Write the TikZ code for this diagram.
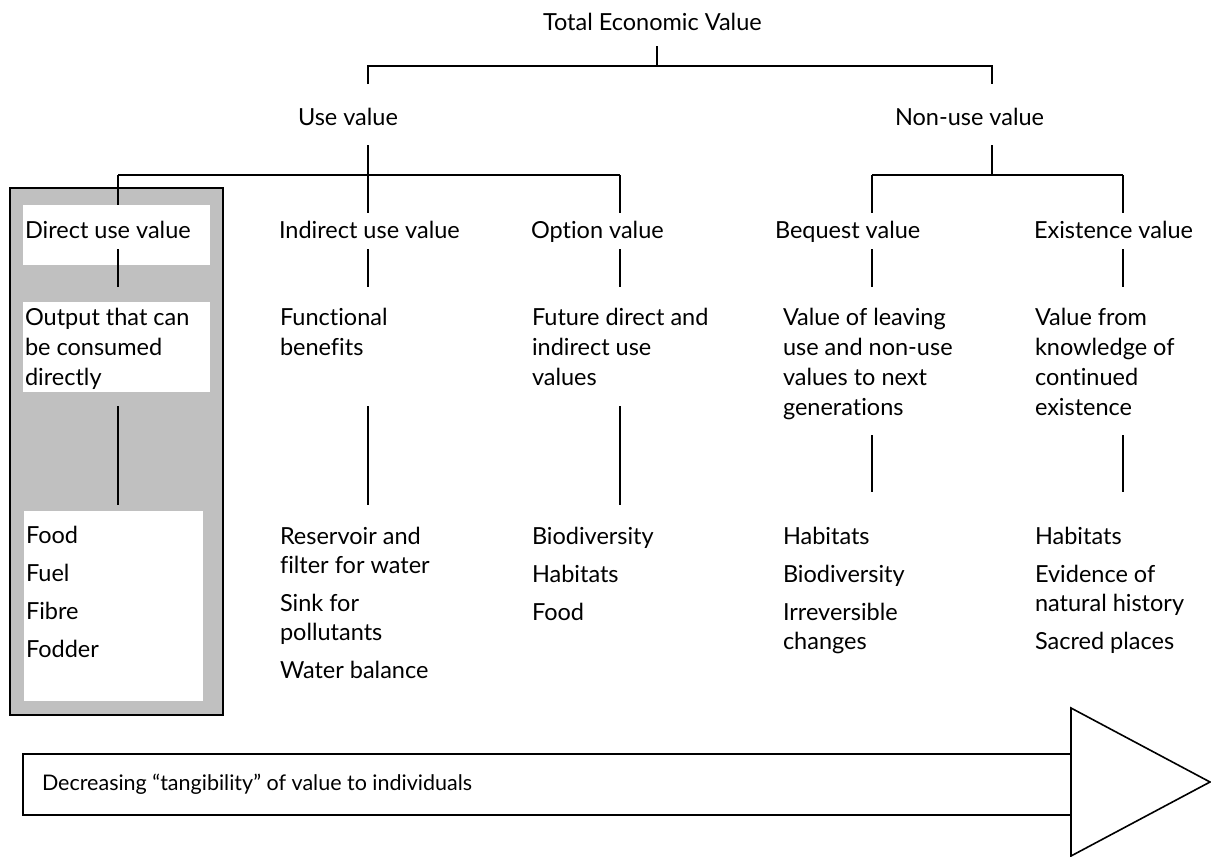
\documentclass[tikz,border=0pt]{standalone}
\usepackage{fontspec}
\setmainfont{Lato}[Ligatures={NoCommon}]
\definecolor{panelgray}{HTML}{C0C0C0}
\newcommand{\lines}[1]{\begin{tabular}[t]{@{}l@{}}#1\end{tabular}}
\begin{document}
\begin{tikzpicture}[x=1pt,y=-1pt,
  every node/.style={inner sep=0pt, outer sep=0pt},
  txt/.style={anchor=base west, font=\fontsize{23.5}{29}\selectfont},
  txtwide/.style={anchor=base west, font=\fontsize{23.5}{30}\selectfont},
  ln/.style={line width=1.6pt, line cap=butt},
  panel/.style={fill=panelgray, draw=black, line width=1.6pt},
  card/.style={fill=white, draw=none}]
\useasboundingbox (0,0) rectangle (1211,857);

% shaded panel holding the direct-use column
\node[panel, minimum width=213pt, minimum height=527pt] (panel) at (116.5,451.5) {};
\node[card, minimum width=187pt, minimum height=60pt] (card1) at (116.5,235) {};
\node[card, minimum width=187pt, minimum height=90pt] (card2) at (116.5,347) {};
\node[card, minimum width=179pt, minimum height=190pt] (card3) at (113.5,606) {};

% level 1 and 2
\node[txt] (tev) at (543,30) {Total Economic Value};
\node[txt] (use) at (298,125) {Use value};
\node[txt] (nonuse) at (895,125) {Non-use value};

% level 3
\node[txt] (direct) at (25,238) {Direct use value};
\node[txt] (indirect) at (279,238) {Indirect use value};
\node[txt] (option) at (531,238) {Option value};
\node[txt] (bequest) at (775,238) {Bequest value};
\node[txt] (existence) at (1034,238) {Existence value};

% level 4
\node[txtwide] (dDesc) at (25,325) {\lines{Output that can\\be consumed\\directly}};
\node[txtwide] (iDesc) at (280,325) {\lines{Functional\\benefits}};
\node[txtwide] (oDesc) at (532,325) {\lines{Future direct and\\indirect use\\values}};
\node[txtwide] (bDesc) at (783,325) {\lines{Value of leaving\\use and non-use\\values to next\\generations}};
\node[txtwide] (eDesc) at (1035,325) {\lines{Value from\\knowledge of\\continued\\existence}};

% level 5
\node[txt] (dList) at (26,543) {\lines{Food\\[9pt]Fuel\\[9pt]Fibre\\[9pt]Fodder}};
\node[txt] (iList) at (280,544) {\lines{Reservoir and\\filter for water\\[9pt]Sink for\\pollutants\\[9pt]Water balance}};
\node[txt] (oList) at (532,544) {\lines{Biodiversity\\[9pt]Habitats\\[9pt]Food}};
\node[txt] (bList) at (783,544) {\lines{Habitats\\[9pt]Biodiversity\\[9pt]Irreversible\\changes}};
\node[txt] (eList) at (1035,544) {\lines{Habitats\\[9pt]Evidence of\\natural history\\[9pt]Sacred places}};

% junction points of the tree
\coordinate (tevDown) at (657,46);
\coordinate (tevJ) at (657,66);
\coordinate (useTop) at (368,66);
\coordinate (useUp) at (368,84);
\coordinate (nonTop) at (992,66);
\coordinate (nonUp) at (992,84);
\coordinate (useDown) at (368,145);
\coordinate (useJ) at (368,175);
\coordinate (barL) at (118,175);
\coordinate (barR) at (620,175);
\coordinate (nonDown) at (992,145);
\coordinate (nonJ) at (992,175);
\coordinate (nbarL) at (872,175);
\coordinate (nbarR) at (1123,175);

\draw[ln] (tevDown) -- (tevJ);
\draw[ln] (useUp) -- (useTop) -- (nonTop) -- (nonUp);
\draw[ln] (useDown) -- (useJ);
\draw[ln] (barL) -- (barR);
\draw[ln] (nonDown) -- (nonJ);
\draw[ln] (nbarL) -- (nbarR);

% drops to level 3
\draw[ln] (barL) -- (barL |- card1.north);
\draw[ln] (useJ) -- (368,213);
\draw[ln] (barR) -- (620,213);
\draw[ln] (nbarL) -- (872,213);
\draw[ln] (nbarR) -- (1123,213);

% level 3 to level 4
\foreach \x in {118,368,620,872,1123} {
  \draw[ln] (\x,249) -- (\x,287);
}
% level 4 to level 5
\foreach \x in {118,368,620} {
  \draw[ln] (\x,406) -- (\x,505);
}
\foreach \x in {872,1123} {
  \draw[ln] (\x,435) -- (\x,492);
}

% tangibility arrow
\draw[ln, fill=white] (23,754) rectangle (1071,815);
\draw[ln, fill=white, line join=miter] (1071,708) -- (1210,782) -- (1071,856) -- cycle;
\node[anchor=base west, font=\fontsize{21.5}{26}\selectfont] (tang) at (42,790) {Decreasing “tangibility” of value to individuals};
\end{tikzpicture}
\end{document}
